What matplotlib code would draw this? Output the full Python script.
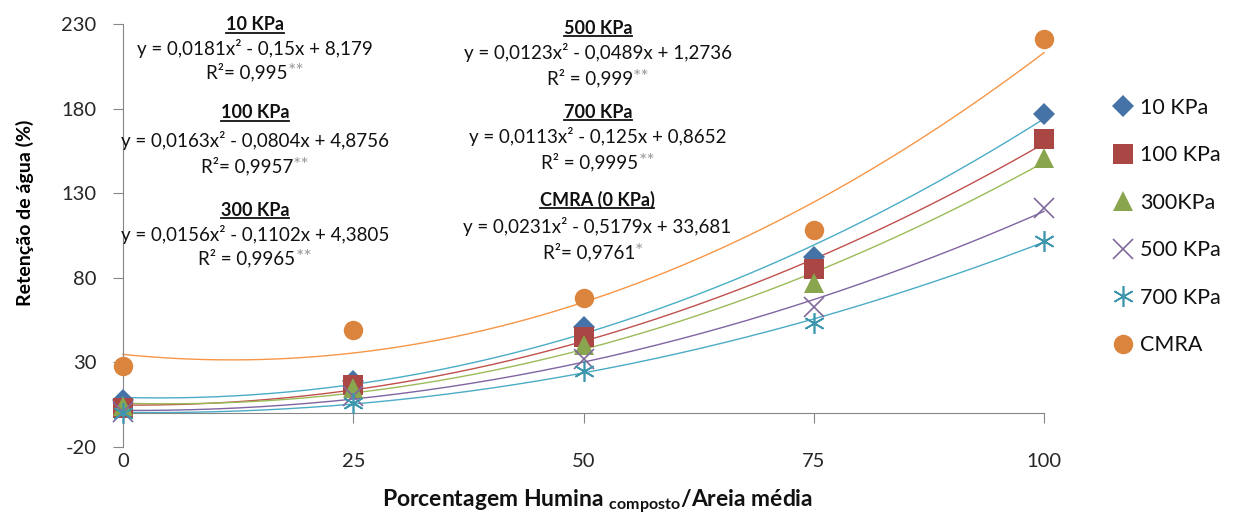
import numpy as np
import matplotlib
matplotlib.use("Agg")
import matplotlib.pyplot as plt
from matplotlib.lines import Line2D

plt.rcParams['font.family'] = ['Lato', 'DejaVu Sans']
plt.rcParams['mathtext.fontset'] = 'custom'
plt.rcParams['mathtext.rm'] = 'Lato'
plt.rcParams['mathtext.bf'] = 'Lato:bold'
plt.rcParams['axes.unicode_minus'] = False

# ---- data ----
x_vals = [0, 25, 50, 75, 100]
series_names = ["10 KPa", "100 KPa", "300KPa", "500 KPa", "700 KPa", "CMRA"]
kpa10 = [7.6, 19, 51, 92, 177]
kpa100 = [3, 16.5, 45, 85, 162]
kpa300 = [4, 15, 40, 77, 151]
kpa500 = [0.5, 10, 32, 63, 121]
kpa700 = [0, 6, 25, 53.5, 102]
cmra = [27.6, 49, 68, 108, 221]
x_ticks = [0, 25, 50, 75, 100]
y_ticks = [-20, 30, 80, 130, 180, 230]

eq_titles = ["10 KPa", "100 KPa", "300 KPa", "500 KPa", "700 KPa", "CMRA (0 KPa)"]
eq_lines = ["y = 0,0181x² - 0,15x + 8,179",
            "y = 0,0163x² - 0,0804x + 4,8756",
            "y = 0,0156x² - 0,1102x + 4,3805",
            "y = 0,0123x² - 0,0489x + 1,2736",
            "y = 0,0113x² - 0,125x + 0,8652",
            "y = 0,0231x² - 0,5179x + 33,681"]
r2_lines = ["R²= 0,995", "R²= 0,9957", "R² = 0,9965",
            "R² = 0,999", "R² = 0,9995", "R²= 0,9761"]
r2_stars = ["**", "**", "**", "**", "**", "*"]

# ---- styles ----
mk_colors = ['#4572A7', '#AA4643', '#89A54E', '#80699B', '#3D96AE', '#DB843D']
ln_colors = ['#4BACC6', '#C0504D', '#9BBB59', '#8064A2', '#4BACC6', '#F79646']
markers = ['D', 's', '^', 'x', (6, 2, 0), 'o']
msizes = [11, 14, 14, 14, 15, 14]

W, H = 1240, 521
fig = plt.figure(figsize=(W / 100, H / 100), dpi=100)
ax = fig.add_axes([123 / W, 1 - 447 / H, (1044 - 123) / W, (447 - 24) / H])

all_series = [kpa10, kpa100, kpa300, kpa500, kpa700, cmra]
xs = np.array(x_vals, dtype=float)
xfine = np.linspace(0, 100, 200)
handles = []
for ys, lc in zip(all_series, ln_colors):
    coef = np.polyfit(xs, np.array(ys, dtype=float), 2)
    ax.plot(xfine, np.polyval(coef, xfine), color=lc, lw=1.0, zorder=2, clip_on=False)
for ys, name, mc, m, ms in zip(all_series, series_names, mk_colors, markers, msizes):
    thin = (m == 'x') or isinstance(m, tuple)
    h, = ax.plot(xs, ys, linestyle='none', marker=m, ms=ms, color=mc,
                 markeredgecolor=mc, markeredgewidth=1.2 if thin else 0,
                 label=name, zorder=3, clip_on=False)
    handles.append(h)

ax.set_xlim(0, 100)
ax.set_ylim(-20, 230)
ax.set_xticks(x_ticks)
ax.set_yticks(y_ticks)
for s in ['top', 'right']:
    ax.spines[s].set_visible(False)
ax.spines['left'].set_color('#868686')
ax.spines['bottom'].set_color('#868686')
ax.spines['bottom'].set_position(('data', 0))
ax.tick_params(axis='y', direction='out', length=7, color='#868686',
               labelsize=14.5, labelcolor='#262626', pad=12)
ax.tick_params(axis='x', direction='out', length=7, color='#868686',
               labelsize=14.5, labelcolor='#262626', pad=22)

ax.set_ylabel("Retenção de água (%)", fontsize=14, fontweight='bold')
ax.yaxis.set_label_coords((34 - 123) / (1044 - 123), (447 - 213) / (447 - 24))
fig.text(598 / W, 1 - 502 / H, r"Porcentagem Humina $_{\mathbf{composto}}$/Areia média",
         ha='center', va='center', fontsize=16.5, fontweight='bold', color='#111111')

leg = fig.legend(handles=handles, loc='upper left', bbox_to_anchor=(1106 / W, 1 - 89 / H),
                 frameon=False, fontsize=15.5, handlelength=0.8, handletextpad=0.4,
                 labelspacing=1.28, borderaxespad=0)
for t in leg.get_texts():
    t.set_color('#111111')

# ---- equation annotations ----
cx = [255, 255, 255, 598, 598, 597]
ty = [25, 113, 210, 28, 112, 200]
ey = [48, 141, 235, 53, 137, 227]
ry = [72, 166, 258, 78, 162, 252]
titles = []
for i in range(6):
    t = fig.text(cx[i] / W, 1 - ty[i] / H, eq_titles[i], ha='center', va='center',
                 fontsize=13, fontweight='bold', color='#111111')
    titles.append(t)
    fig.text(cx[i] / W, 1 - ey[i] / H, eq_lines[i], ha='center', va='center',
             fontsize=13.5, color='#111111')
    r = fig.text((cx[i] - 8) / W, 1 - ry[i] / H, r2_lines[i], ha='center', va='center',
                 fontsize=13.5, color='#111111')
    ax.annotate(r2_stars[i], xy=(1, 0.55), xycoords=r, ha='left', va='center',
                fontsize=14, color='#999999', annotation_clip=False)

fig.canvas.draw()
renderer = fig.canvas.get_renderer()
for t in titles:
    bb = t.get_window_extent(renderer)
    yline = bb.y0 + 1
    fig.add_artist(Line2D([bb.x0 / W, bb.x1 / W], [yline / H, yline / H],
                          transform=fig.transFigure, color='#111111', lw=1.3))

fig.savefig("out.png", dpi=100)
